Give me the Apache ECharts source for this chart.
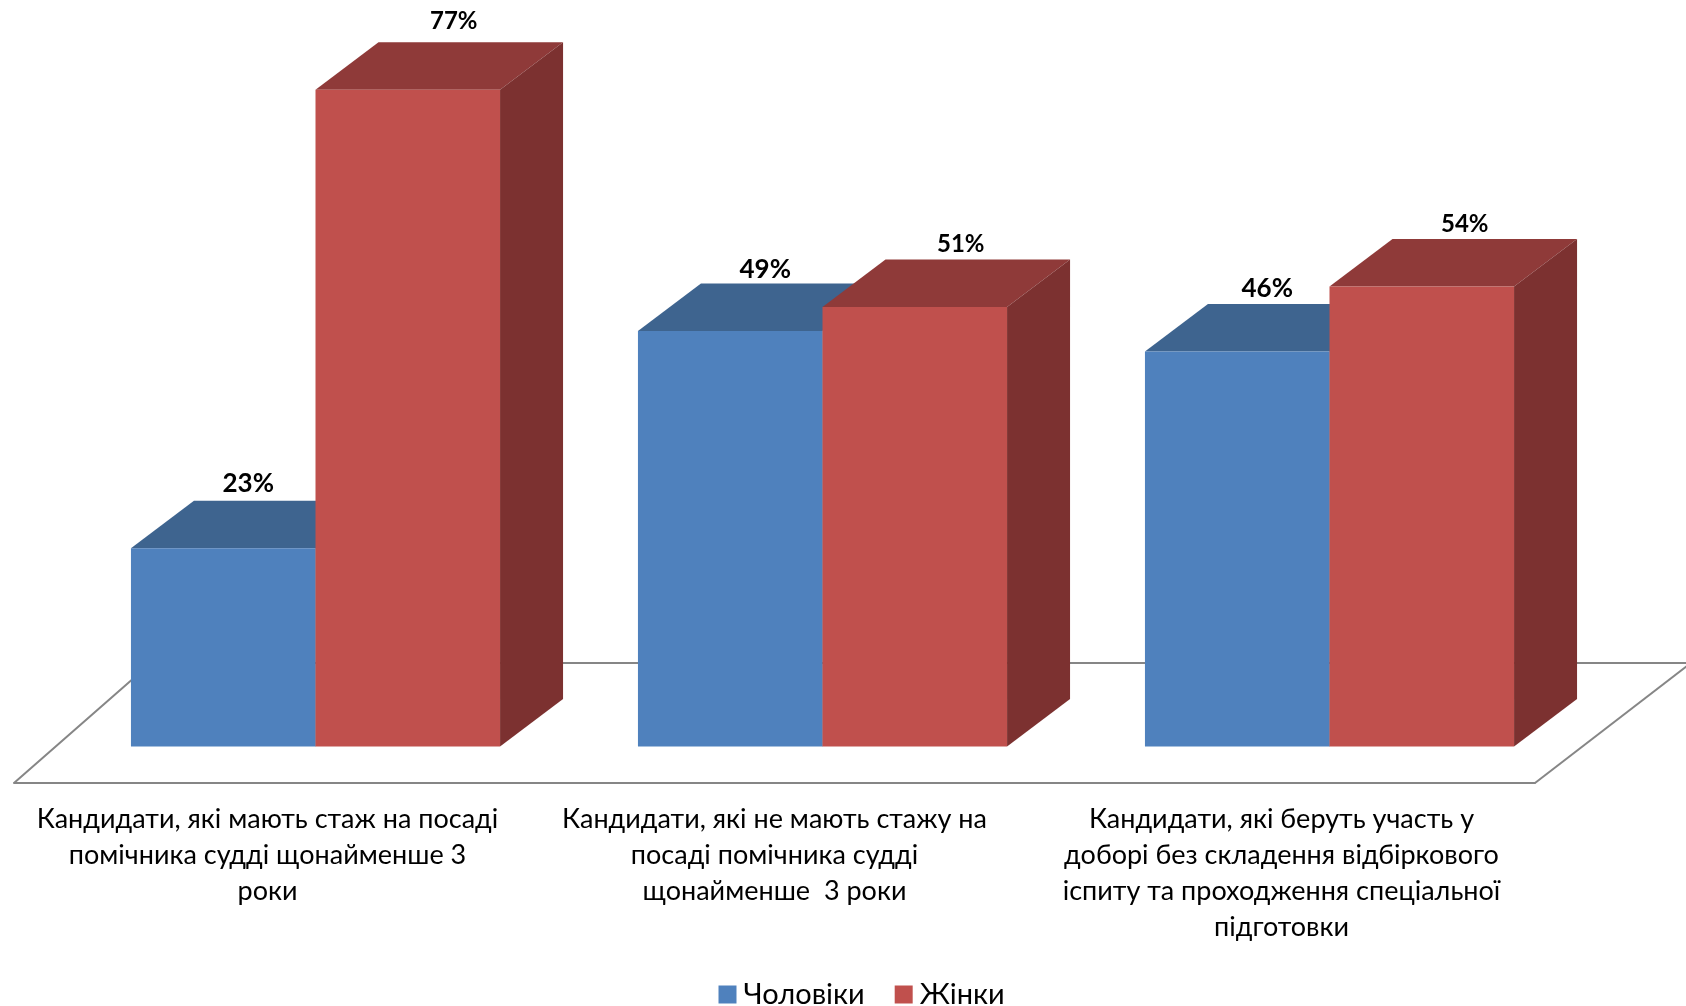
<!DOCTYPE html>
<html>
<head>
<meta charset="utf-8">
<style>html,body{margin:0;padding:0;background:#fff}#c{width:1686px;height:1006px}</style>
<script src="https://cdn.jsdelivr.net/npm/echarts@6/dist/echarts.min.js"></script>
</head>
<body>
<div id="c"></div>
<script>
const categories = [
  'Кандидати, які мають стаж на посаді\nпомічника судді щонайменше 3\nроки',
  'Кандидати, які не мають стажу на\nпосаді помічника судді\nщонайменше  3 роки',
  'Кандидати, які беруть участь у\nдоборі без складення відбіркового\nіспиту та проходження спеціальної\nпідготовки'
];
const seriesNames = ['Чоловіки', 'Жінки'];
const men = [23.2, 48.6, 46.2];
const women = [76.8, 51.4, 53.8];

const FONT = 'Lato, Carlito, "Open Sans", sans-serif';
const shift = { x: 48, y: -36.5 };
const depth = { x: 63, y: -47.5 };
const barRatio = 0.364;
const menLabelNudge = [[-5, 0], [5, 3], [0, 2]];
const womenLabelNudge = [[2, -4], [2, 2], [-1, 2]];

function barRenderer(side, colors, labelDx, labelSize, nudge) {
  return function (params, api) {
    const base = api.coord([api.value(0), 0]);
    const top = api.coord([api.value(0), api.value(1)]);
    const w = api.size([1, 0])[0] * barRatio;
    const x0 = base[0] + shift.x + (side < 0 ? -w : 0);
    const x1 = x0 + w;
    const yb = base[1] + shift.y;
    const yt = top[1] + shift.y;
    const n = nudge[params.dataIndex];
    const poly = (pts, fill) => ({ type: 'polygon', shape: { points: pts }, style: { fill: fill } });
    return {
      type: 'group',
      children: [
        poly([[x0, yt], [x1, yt], [x1 + depth.x, yt + depth.y], [x0 + depth.x, yt + depth.y]], colors.top),
        poly([[x1, yb], [x1, yt], [x1 + depth.x, yt + depth.y], [x1 + depth.x, yb + depth.y]], colors.side),
        poly([[x0, yb], [x1, yb], [x1, yt], [x0, yt]], colors.front),
        {
          type: 'text',
          z2: 10,
          style: {
            x: (x0 + x1) / 2 + labelDx + n[0],
            y: yt + depth.y - 17 + n[1],
            text: Math.round(api.value(1)) + '%',
            fill: '#000',
            font: 'bold ' + labelSize + 'px ' + FONT,
            align: 'center',
            verticalAlign: 'middle'
          }
        }
      ]
    };
  };
}

function floorRenderer(params, api) {
  const left = params.coordSys.x;
  const right = params.coordSys.x + params.coordSys.width;
  const y = api.coord([0, 0])[1];
  return {
    type: 'polyline',
    shape: { points: [[left, y], [left + 137, y - 120], [right + 160, y - 120]] },
    style: { stroke: '#868686', lineWidth: 2, fill: 'none' },
    silent: true
  };
}
function floorRightRenderer(params, api) {
  const right = params.coordSys.x + params.coordSys.width;
  const y = api.coord([0, 0])[1];
  return {
    type: 'line',
    shape: { x1: right, y1: y, x2: right + 156, y2: y - 120 },
    style: { stroke: '#868686', lineWidth: 2 },
    silent: true
  };
}

const toPairs = arr => arr.map((v, i) => [i, v]);

const chart = echarts.init(document.getElementById('c'), null, { renderer: 'canvas', width: 1686, height: 1006 });
chart.setOption({
  animation: false,
  backgroundColor: '#fff',
  textStyle: { fontFamily: FONT },
  grid: { left: 14, right: 151, top: 99, bottom: 223, containLabel: false },
  legend: {
    data: seriesNames,
    left: 713.5,
    top: 975,
    icon: 'rect',
    itemWidth: 18,
    itemHeight: 18,
    itemGap: 30,
    textStyle: { fontSize: 29, color: '#000', fontFamily: FONT, padding: [0, 0, 0, 2] }
  },
  xAxis: {
    type: 'category',
    data: categories,
    axisLine: { show: true, lineStyle: { color: '#868686', width: 2 } },
    axisTick: { show: false },
    splitLine: { show: false },
    axisLabel: { interval: 0, margin: 18, fontSize: 27, lineHeight: 36, color: '#000', fontFamily: FONT, align: 'center' }
  },
  yAxis: { type: 'value', min: 0, max: 80, show: false, splitLine: { show: false } },
  series: [
    { type: 'custom', silent: true, clip: false, data: [[0, 0]], encode: { x: 0, y: 1 }, renderItem: floorRenderer, z: 1 },
    { type: 'custom', silent: true, clip: false, data: [[0, 0]], encode: { x: 0, y: 1 }, renderItem: floorRightRenderer, z: 1 },
    {
      name: seriesNames[0], type: 'custom', clip: false, z: 2,
      itemStyle: { color: '#4F81BD' },
      encode: { x: 0, y: 1 },
      data: toPairs(men),
      renderItem: barRenderer(-1, { front: '#4F81BD', top: '#3E648F', side: '#325274' }, 30, 26, menLabelNudge)
    },
    {
      name: seriesNames[1], type: 'custom', clip: false, z: 3,
      itemStyle: { color: '#C0504D' },
      encode: { x: 0, y: 1 },
      data: toPairs(women),
      renderItem: barRenderer(1, { front: '#C0504D', top: '#8F3A39', side: '#7C3130' }, 44, 24, womenLabelNudge)
    }
  ]
});
</script>
</body>
</html>
